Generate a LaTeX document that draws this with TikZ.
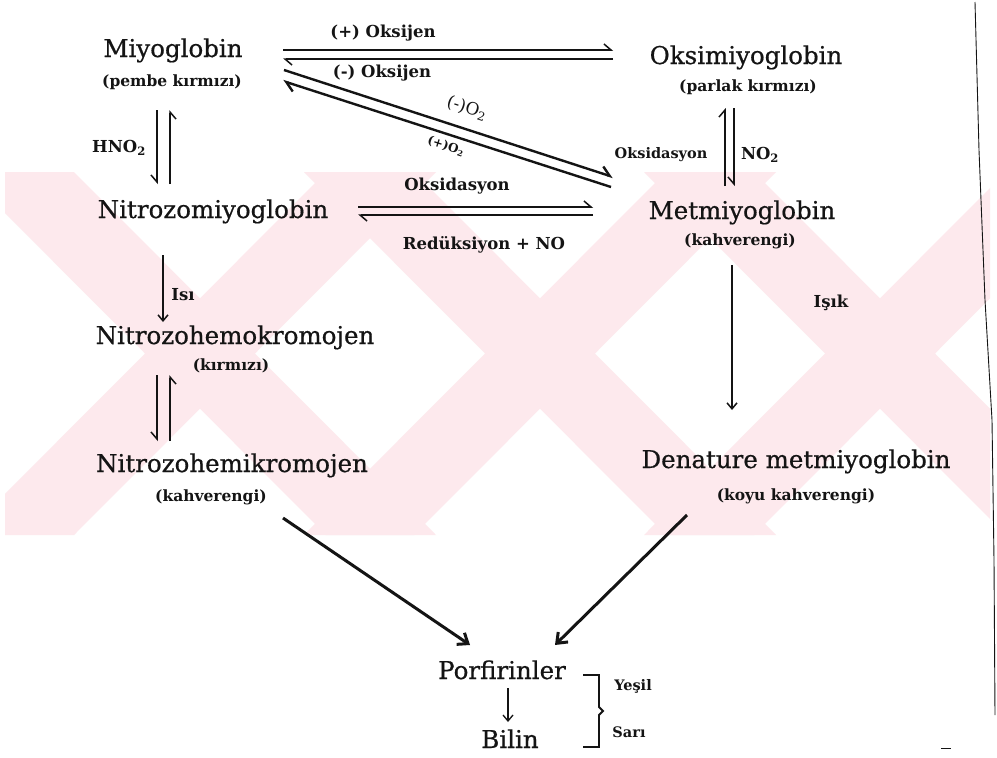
\documentclass[tikz,border=0pt]{standalone}
\usepackage{fontspec}
\setmainfont{DejaVu Serif}
\newfontfamily\mainfnt{DejaVu Serif}[FakeBold=0.6]
\usetikzlibrary{arrows.meta}
\definecolor{wm}{RGB}{253,233,237}
\definecolor{ink}{RGB}{20,20,20}
\begin{document}
\begin{tikzpicture}[x=1pt,y=-1pt,
  every node/.style={text=ink},
  main/.style={font=\mainfnt\fontsize{24.5}{26}\selectfont, inner sep=0pt, text height=18pt, text depth=6pt},
  sub/.style={font=\bfseries\fontsize{15.5}{16}\selectfont, inner sep=0pt, text height=11.5pt, text depth=4pt},
  lbl/.style={font=\bfseries\fontsize{16.5}{17}\selectfont, inner sep=0pt},
  sml/.style={font=\bfseries\fontsize{14.5}{15}\selectfont, inner sep=0pt},
  hp/.style={draw=ink, line width=1.5pt, -{Straight Barb[left,length=7pt,width=12pt]}},
  hpr/.style={draw=ink, line width=1.5pt, -{Straight Barb[right,length=7pt,width=12pt]}},
  arr/.style={draw=ink, line width=1.5pt, -{Straight Barb[length=6pt,width=10pt]}},
  big/.style={draw=ink, line width=3pt, -{Straight Barb[length=9pt,width=14pt]}},
  dg/.style={draw=ink, line width=2.4pt, -{Straight Barb[left,length=9pt,width=14pt]}},
]
\useasboundingbox (0,0) rectangle (997,758);
\fill[white] (0,0) rectangle (997,758);
% watermark
\begin{scope}
\clip (5,172) rectangle (990,535);
\foreach \c in {200,540,880}{
  \fill[wm] (\c-236,172) -- (\c-126,172) -- (\c+236,535) -- (\c+126,535) -- cycle;
  \fill[wm] (\c+126,172) -- (\c+236,172) -- (\c-126,535) -- (\c-236,535) -- cycle;
}
\end{scope}
% page edge line
\draw[ink, line width=0.9pt] (975,2) -- (979,150) -- (985,300) -- (992,420) -- (994,560) -- (995,715);
\draw[ink, line width=1pt] (941,748) -- (951,748);

% main nodes
\node[main] (miyo)  at (173,51)  {Miyoglobin};
\node[sub]  (pembe) at (172,83)  {(pembe kırmızı)};
\node[main] (oksi)  at (746,58)  {Oksimiyoglobin};
\node[sub]  (parlak) at (748,88) {(parlak kırmızı)};
\node[main] (nitro) at (213,212) {Nitrozomiyoglobin};
\node[main] (met)   at (742,213) {Metmiyoglobin};
\node[sub]  (kah1)  at (740,242) {(kahverengi)};
\node[main] (nhk)   at (235,338) {Nitrozohemokromojen};
\node[sub]  (kirm)  at (231,367) {(kırmızı)};
\node[main] (nhm)   at (232,466) {Nitrozohemikromojen};
\node[sub]  (kah2)  at (211,498) {(kahverengi)};
\node[main] (den)   at (796,462) {Denature metmiyoglobin};
\node[sub]  (koyu)  at (796,497) {(koyu kahverengi)};
\node[main] (porf)  at (502,673) {Porfirinler};
\node[main] (bilin) at (510,742) {Bilin};

% labels
\node[lbl] (plusox)  at (383,33)  {(+) Oksijen};
\node[lbl] (minusox) at (382,73)  {(-) Oksijen};
\node[lbl] (hno)     at (119,148) {HNO\textsubscript{2}};
\node[lbl] (oks1)    at (457,186) {Oksidasyon};
\node[lbl] (red)     at (484,245) {Redüksiyon + NO};
\node[sml] (oks2)    at (661,155) {Oksidasyon};
\node[lbl] (notwo)   at (760,155) {NO\textsubscript{2}};
\node[lbl] (isi)     at (183,295) {Isı};
\node[lbl] (isik)    at (831,303) {Işık};
\node[sml] (yesil)   at (633,686) {Yeşil};
\node[sml] (sari)    at (629,732) {Sarı};
\node[font=\fontsize{17}{18}\selectfont, inner sep=0pt, rotate=-18] (mo) at (467,108) {(-)O\textsubscript{2}};
\node[font=\bfseries\fontsize{12}{13}\selectfont, inner sep=0pt, rotate=-18] (po) at (446,146) {(+)O\textsubscript{2}};

% connector end points
\coordinate (t1a) at (283,50);  \coordinate (t1b) at (613,50);
\coordinate (t2a) at (613,59);  \coordinate (t2b) at (283,59);
\coordinate (d1a) at (284,70);  \coordinate (d1b) at (613,177);
\coordinate (d2a) at (611,187); \coordinate (d2b) at (283,81);
\coordinate (h1a) at (157,110); \coordinate (h1b) at (157,184);
\coordinate (h2a) at (170,184); \coordinate (h2b) at (170,110);
\coordinate (m1a) at (358,207); \coordinate (m1b) at (593,207);
\coordinate (m2a) at (593,215); \coordinate (m2b) at (358,215);
\coordinate (r1a) at (725,186); \coordinate (r1b) at (725,108);
\coordinate (r2a) at (734,108); \coordinate (r2b) at (734,186);
\coordinate (i1) at (163,255);  \coordinate (i2) at (163,322);
\coordinate (n1a) at (157,375); \coordinate (n1b) at (157,441);
\coordinate (n2a) at (170,441); \coordinate (n2b) at (170,375);
\coordinate (k1) at (732,265);  \coordinate (k2) at (732,410);
\coordinate (b1) at (283,518);  \coordinate (b2) at (470,645);
\coordinate (c1) at (687,515);  \coordinate (c2) at (555,645);
\coordinate (pb1) at (508,688); \coordinate (pb2) at (508,722);

% connectors
\draw[hp] (t1a) -- (t1b);
\draw[hp] (t2a) -- (t2b);
\draw[dg] (d1a) -- (d1b);
\draw[dg] (d2a) -- (d2b);
\draw[hpr] (h1a) -- (h1b);
\draw[hpr] (h2a) -- (h2b);
\draw[hp] (m1a) -- (m1b);
\draw[hp] (m2a) -- (m2b);
\draw[hp] (r1a) -- (r1b);
\draw[hpr] (r2a) -- (r2b);
\draw[arr] (i1) -- (i2);
\draw[hpr] (n1a) -- (n1b);
\draw[hpr] (n2a) -- (n2b);
\draw[arr] (k1) -- (k2);
\draw[big] (b1) -- (b2);
\draw[big] (c1) -- (c2);
\draw[arr, line width=1.3pt] (pb1) -- (pb2);

% bracket
\draw[ink, line width=1.8pt] (583,675) -- (599,675) -- (599,707) -- (603,711) -- (599,715) -- (599,747) -- (583,747);
\end{tikzpicture}
\end{document}
